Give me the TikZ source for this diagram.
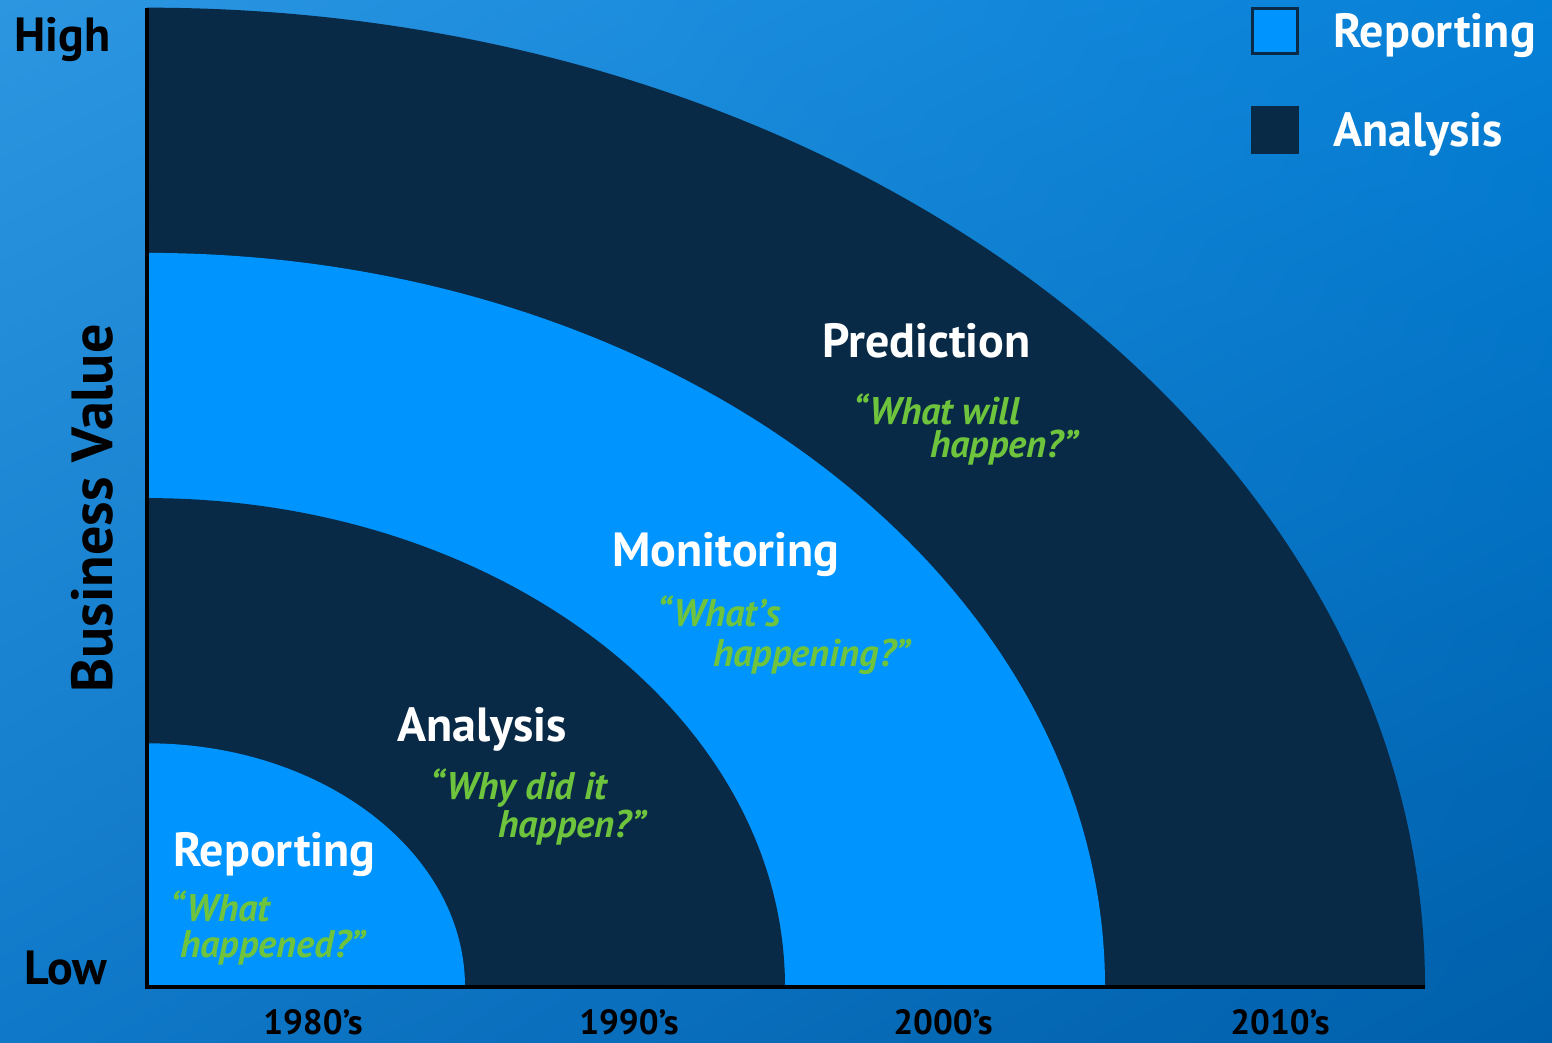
\documentclass[tikz,border=0pt]{standalone}
\usepackage{fontspec}
\setmainfont{PT Sans}
\usetikzlibrary{shadings}
\definecolor{navy}{RGB}{9,42,70}
\definecolor{sky}{RGB}{0,148,255}
\definecolor{quotegreen}{RGB}{110,196,60}
\definecolor{bgtl}{RGB}{45,150,225}
\definecolor{bgtr}{RGB}{5,128,215}
\definecolor{bgbl}{RGB}{15,120,200}
\definecolor{bgbr}{RGB}{0,95,170}

\def\ox{147}
\def\oy{56}
\def\ratio{1.305}
\def\lsize{48}
\def\qsize{38.5}

\begin{document}
\begin{tikzpicture}[x=1pt,y=1pt,
  era/.style={inner sep=0pt,anchor=base west,text=white,font=\fontsize{\lsize}{\lsize}\selectfont\bfseries},
  askq/.style={inner sep=0pt,anchor=base west,text=quotegreen,font=\fontsize{\qsize}{\qsize}\selectfont\bfseries\itshape},
  axlbl/.style={inner sep=0pt,text=black,font=\fontsize{#1}{#1}\selectfont\bfseries},
  keybox/.style={inner sep=0pt,minimum size=45,line width=3,draw=navy,fill=#1}]
  % background
  \shade[upper left=bgtl,upper right=bgtr,lower left=bgbl,lower right=bgbr] (0,0) rectangle (1552,1043);
  % quarter rings, outermost first
  \foreach \r/\c in {1278/navy,958/sky,638/navy,318/sky}
    \fill[\c] (\ox,\oy) -- ++(\r,0) arc[start angle=0,end angle=90,x radius=\r,y radius=\r/\ratio] -- cycle;
  \draw[line width=4] (\ox,1035) |- (1425,\oy);
  % axis texts
  \node[axlbl=48,anchor=base west] (high) at (14,991) {High};
  \node[axlbl=48,anchor=base west] (low) at (24,58) {Low};
  \node[axlbl=58,anchor=base west,rotate=90] (bvalue) at (112,350) {Business Value};
  \foreach \x/\yr in {313/1980,629/1990,943/2000,1280/2010}
    \node[axlbl=35,anchor=base] (y\yr) at (\x,8) {\yr’s};
  % legend
  \node[keybox=sky] (keyrep) at (1275,1012) {};
  \node[keybox=navy] (keyana) at (1275,913) {};
  \node[era] (txtrep) at (1333,995) {Reporting};
  \node[era] (txtana) at (1333,896) {Analysis};
  % ring labels
  \node[era] (rep) at (173,176) {Reporting};
  \node[askq] (rep1) at (170,121) {“What};
  \node[askq] (rep2) at (180,85) {happened?”};
  \node[era] (ana) at (397,301) {Analysis};
  \node[askq] (ana1) at (430,243) {“Why did it};
  \node[askq] (ana2) at (498,205) {happen?”};
  \node[era] (mon) at (612,476) {Monitoring};
  \node[askq] (mon1) at (657,416) {“What’s};
  \node[askq] (mon2) at (713,376) {happening?”};
  \node[era] (pre) at (822,685) {Prediction};
  \node[askq] (pre1) at (853,618) {“What will};
  \node[askq] (pre2) at (930,585) {happen?”};
\end{tikzpicture}
\end{document}
